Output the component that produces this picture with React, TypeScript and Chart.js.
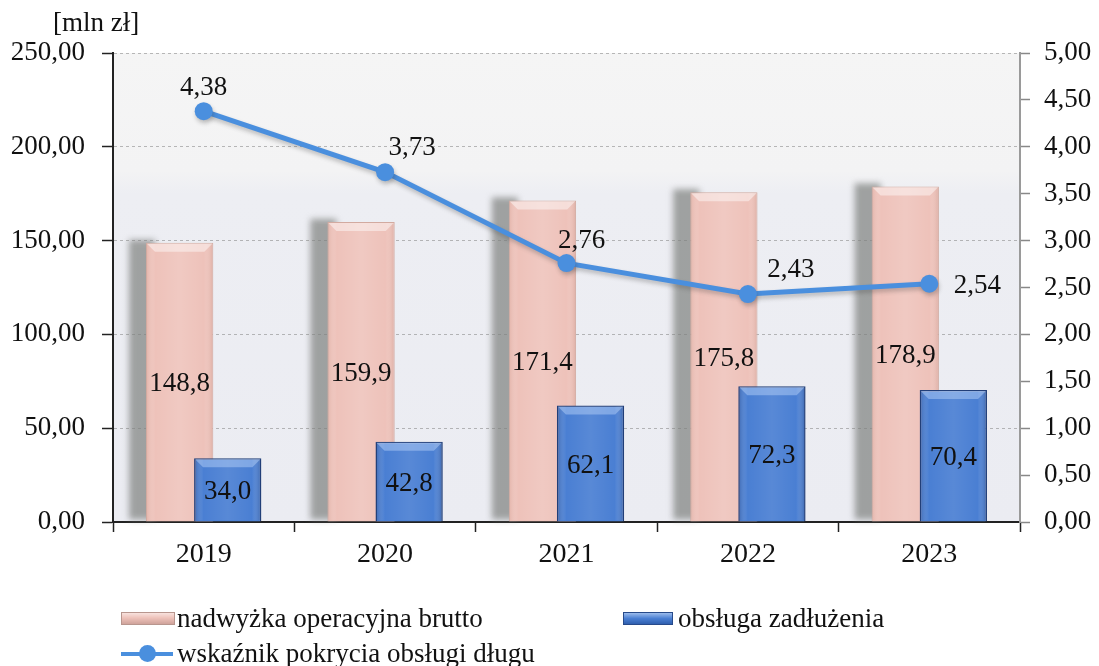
import React, { useEffect, useRef } from "react";
import { Chart, registerables } from "chart.js";

Chart.register(...registerables);

const YEARS = ["2019", "2020", "2021", "2022", "2023"];
const SURPLUS = [148.8, 159.9, 171.4, 175.8, 178.9];
const DEBT_SERVICE = [34.0, 42.8, 62.1, 72.3, 70.4];
const COVERAGE = [4.38, 3.73, 2.76, 2.43, 2.54];
const LEFT_MAX = 250;
const LEFT_STEP = 50;
const RIGHT_MAX = 5;
const RIGHT_STEP = 0.5;
const UNIT_LABEL = "[mln zł]";
const SERIES_NAMES = [
  "nadwyżka operacyjna brutto",
  "obsługa zadłużenia",
  "wskaźnik pokrycia obsługi długu",
];
// label placement (style) for line value labels, relative to the point
const LINE_LABEL_OFFSETS = [
  [0, -23],
  [27, -24],
  [15, -22],
  [43, -24],
  [48, 2],
];

const FONT = '"Liberation Serif", "DejaVu Serif", "Times New Roman", serif';
const TEXT = "#111111";
const PINK = "#eec2ba";
const BLUE = "#4a7fd3";
const LINE = "#4a8fde";

const fmt = (v: number, d: number) => v.toFixed(d).replace(".", ",");

const PINK_IDX = 0;
const BLUE_IDX = 1;
const LINE_IDX = 2;

function rectOf(el: any) {
  const p = el.getProps(["x", "y", "base", "width"], true);
  return {
    l: p.x - p.width / 2,
    r: p.x + p.width / 2,
    t: Math.min(p.y, p.base),
    b: Math.max(p.y, p.base),
  };
}

function bevel(ctx: CanvasRenderingContext2D, el: any, kind: "pink" | "blue") {
  const { l, r, t, b } = rectOf(el);
  const bv = 9;
  ctx.save();
  const g = ctx.createLinearGradient(l, 0, r, 0);
  if (kind === "pink") {
    g.addColorStop(0, "rgba(205,150,135,0.35)");
    g.addColorStop(0.14, "rgba(255,255,255,0.0)");
    g.addColorStop(0.5, "rgba(255,255,255,0.12)");
    g.addColorStop(0.86, "rgba(255,255,255,0.0)");
    g.addColorStop(1, "rgba(190,135,120,0.35)");
  } else {
    g.addColorStop(0, "rgba(20,50,110,0.35)");
    g.addColorStop(0.14, "rgba(255,255,255,0.0)");
    g.addColorStop(0.5, "rgba(255,255,255,0.08)");
    g.addColorStop(0.86, "rgba(255,255,255,0.0)");
    g.addColorStop(1, "rgba(20,50,110,0.4)");
  }
  ctx.fillStyle = g;
  ctx.fillRect(l + 1, t + 1, r - l - 2, b - t - 2);
  ctx.beginPath();
  ctx.moveTo(l + 1, t + 1);
  ctx.lineTo(r - 1, t + 1);
  ctx.lineTo(r - bv, t + bv);
  ctx.lineTo(l + bv, t + bv);
  ctx.closePath();
  ctx.fillStyle = kind === "pink" ? "rgba(255,255,255,0.45)" : "rgba(190,215,250,0.45)";
  ctx.fill();
  ctx.restore();
}

const customPlugin = {
  id: "customLook",
  beforeDraw(chart: any) {
    const { ctx, chartArea: a } = chart;
    ctx.save();
    ctx.fillStyle = "#ffffff";
    ctx.fillRect(0, 0, chart.width, chart.height);
    const g = ctx.createLinearGradient(0, a.top, 0, a.bottom);
    g.addColorStop(0, "#f5f5f5");
    g.addColorStop(0.25, "#f3f3f4");
    g.addColorStop(0.3, "#edeef3");
    g.addColorStop(1, "#ebecf2");
    ctx.fillStyle = g;
    ctx.fillRect(a.left, a.top, a.right - a.left, a.bottom - a.top);
    ctx.fillStyle = TEXT;
    ctx.font = `27px ${FONT}`;
    ctx.textAlign = "left";
    ctx.textBaseline = "middle";
    ctx.fillText(UNIT_LABEL, 53, 24);
    ctx.restore();
  },
  beforeDatasetDraw(chart: any, args: any) {
    const ctx = chart.ctx;
    if (args.index === BLUE_IDX) return false;
    if (args.index === PINK_IDX) {
      // soft gray shadow to the left of each pink bar
      const pm = chart.getDatasetMeta(PINK_IDX);
      ctx.save();
      ctx.filter = "blur(3px)";
      ctx.fillStyle = "rgba(125,128,126,0.7)";
      pm.data.forEach((el: any) => {
        const { l, t, b } = rectOf(el);
        ctx.fillRect(l - 17, t - 3, 26, b - t + 1);
      });
      ctx.restore();
    }
    if (args.index === LINE_IDX) {
      ctx.save();
      ctx.shadowColor = "rgba(60,60,60,0.3)";
      ctx.shadowOffsetX = 1;
      ctx.shadowOffsetY = 3;
      ctx.shadowBlur = 4;
    }
    return true;
  },
  afterDatasetDraw(chart: any, args: any) {
    const ctx = chart.ctx;
    if (args.index === LINE_IDX) {
      ctx.restore();
    }
    if (args.index === PINK_IDX) {
      const pm = chart.getDatasetMeta(PINK_IDX);
      pm.data.forEach((el: any) => bevel(ctx, el, "pink"));
      const bm = chart.getDatasetMeta(BLUE_IDX);
      const a = chart.chartArea;
      ctx.save();
      ctx.beginPath();
      ctx.rect(a.left, a.top - 2, a.right - a.left, a.bottom - a.top + 2);
      ctx.clip();
      bm.controller.draw();
      ctx.restore();
      bm.data.forEach((el: any) => bevel(ctx, el, "blue"));
    }
  },
  afterDatasetsDraw(chart: any) {
    const ctx = chart.ctx;
    ctx.save();
    ctx.fillStyle = TEXT;
    ctx.font = `27px ${FONT}`;
    ctx.textAlign = "center";
    ctx.textBaseline = "middle";
    [PINK_IDX, BLUE_IDX].forEach((di) => {
      const meta = chart.getDatasetMeta(di);
      const vals = chart.data.datasets[di].data as number[];
      meta.data.forEach((el: any, i: number) => {
        const p = el.getProps(["x", "y", "base"], true);
        ctx.fillText(fmt(vals[i], 1), p.x, (p.y + p.base) / 2 + 2);
      });
    });
    const lm = chart.getDatasetMeta(LINE_IDX);
    lm.data.forEach((el: any, i: number) => {
      const p = el.getProps(["x", "y"], true);
      const o = LINE_LABEL_OFFSETS[i] || [0, -23];
      ctx.fillText(fmt(COVERAGE[i], 2), p.x + o[0], p.y + o[1]);
    });
    ctx.restore();
  },
};

function Legend() {
  const text: React.CSSProperties = {
    position: "absolute",
    fontFamily: FONT,
    fontSize: "27px",
    color: TEXT,
    lineHeight: "32px",
    height: "32px",
    whiteSpace: "nowrap",
  };
  return (
    <>
      <div
        style={{
          position: "absolute",
          left: 121,
          top: 612,
          width: 52,
          height: 11,
          border: "1px solid #b8968e",
          background: "linear-gradient(to bottom, #f8e2de 0%, #eec2ba 45%, #cfa39b 100%)",
        }}
      />
      <div style={{ ...text, left: 177, top: 602 }}>{SERIES_NAMES[0]}</div>
      <div
        style={{
          position: "absolute",
          left: 623,
          top: 612,
          width: 48,
          height: 11,
          border: "1px solid #274a8a",
          background: "linear-gradient(to bottom, #9cbcec 0%, #4a7fd3 50%, #2f5fae 100%)",
        }}
      />
      <div style={{ ...text, left: 678, top: 602 }}>{SERIES_NAMES[1]}</div>
      <div
        style={{
          position: "absolute",
          left: 121,
          top: 652,
          width: 52,
          height: 4,
          background: LINE,
        }}
      />
      <div
        style={{
          position: "absolute",
          left: 139,
          top: 645,
          width: 17,
          height: 17,
          borderRadius: "50%",
          background: LINE,
        }}
      />
      <div style={{ ...text, left: 177, top: 637 }}>{SERIES_NAMES[2]}</div>
    </>
  );
}

export default function App() {
  const ref = useRef<HTMLCanvasElement | null>(null);

  useEffect(() => {
    if (!ref.current) return;
    const chart = new Chart(ref.current, {
      type: "bar",
      data: {
        labels: YEARS,
        datasets: [
          {
            type: "bar",
            label: SERIES_NAMES[0],
            data: SURPLUS,
            backgroundColor: PINK,
            borderColor: "#d2aaa0",
            borderWidth: 1,
            yAxisID: "y",
            order: 1,
            categoryPercentage: 0.53,
            barPercentage: 1.4,
          },
          {
            type: "bar",
            label: SERIES_NAMES[1],
            data: DEBT_SERVICE,
            backgroundColor: BLUE,
            borderColor: "#213e78",
            borderWidth: 1.5,
            yAxisID: "y",
            order: 2,
            categoryPercentage: 0.53,
            barPercentage: 1.4,
          },
          {
            type: "line",
            label: SERIES_NAMES[2],
            data: COVERAGE,
            borderColor: LINE,
            backgroundColor: LINE,
            borderWidth: 5,
            pointRadius: 9,
            pointBorderWidth: 0,
            pointBackgroundColor: LINE,
            yAxisID: "y1",
            order: 0,
          } as any,
        ],
      },
      options: {
        animation: false,
        responsive: false,
        maintainAspectRatio: false,
        layout: { padding: { top: 53, bottom: 84, left: 0, right: 0 } },
        plugins: {
          legend: { display: false },
          tooltip: { enabled: false },
        },
        scales: {
          x: {
            type: "category",
            offset: true,
            grid: {
              offset: true,
              drawOnChartArea: false,
              drawTicks: true,
              tickLength: 10,
              tickColor: "#222",
              tickWidth: 1.5,
              color: "#222",
            },
            border: { display: true, color: "#222", width: 2 },
            ticks: {
              color: TEXT,
              font: { family: FONT, size: 28 },
              padding: 6,
            },
            afterFit: (s: any) => {
              s.height = 60;
            },
          },
          y: {
            position: "left",
            min: 0,
            max: LEFT_MAX,
            ticks: {
              stepSize: LEFT_STEP,
              padding: 17,
              color: TEXT,
              font: { family: FONT, size: 27 },
              callback: (v: any) => fmt(Number(v), 2),
            },
            grid: {
              color: "rgba(140,140,140,0.6)",
              lineWidth: 1,
              tickLength: 11,
              tickColor: "#222",
              tickWidth: 1.5,
              tickBorderDash: [],
            },
            border: { display: true, color: "#222", width: 2, dash: [3, 3] },
            afterFit: (s: any) => {
              s.width = 113;
            },
          },
          y1: {
            position: "right",
            min: 0,
            max: RIGHT_MAX,
            ticks: {
              stepSize: RIGHT_STEP,
              padding: 14,
              color: TEXT,
              font: { family: FONT, size: 27 },
              callback: (v: any) => fmt(Number(v), 2),
            },
            grid: {
              drawOnChartArea: false,
              tickLength: 10,
              tickColor: "#888",
              tickWidth: 1.5,
            },
            border: { display: true, color: "#9a9a9a", width: 2 },
            afterFit: (s: any) => {
              s.width = 79;
            },
          },
        },
      },
      plugins: [customPlugin as any],
    });
    return () => chart.destroy();
  }, []);

  return (
    <div
      style={{
        position: "absolute",
        left: 0,
        top: 0,
        width: 1099,
        height: 666,
        background: "#fff",
        overflow: "hidden",
      }}
    >
      <canvas ref={ref} width={1099} height={666} style={{ display: "block" }} />
      <Legend />
    </div>
  );
}
